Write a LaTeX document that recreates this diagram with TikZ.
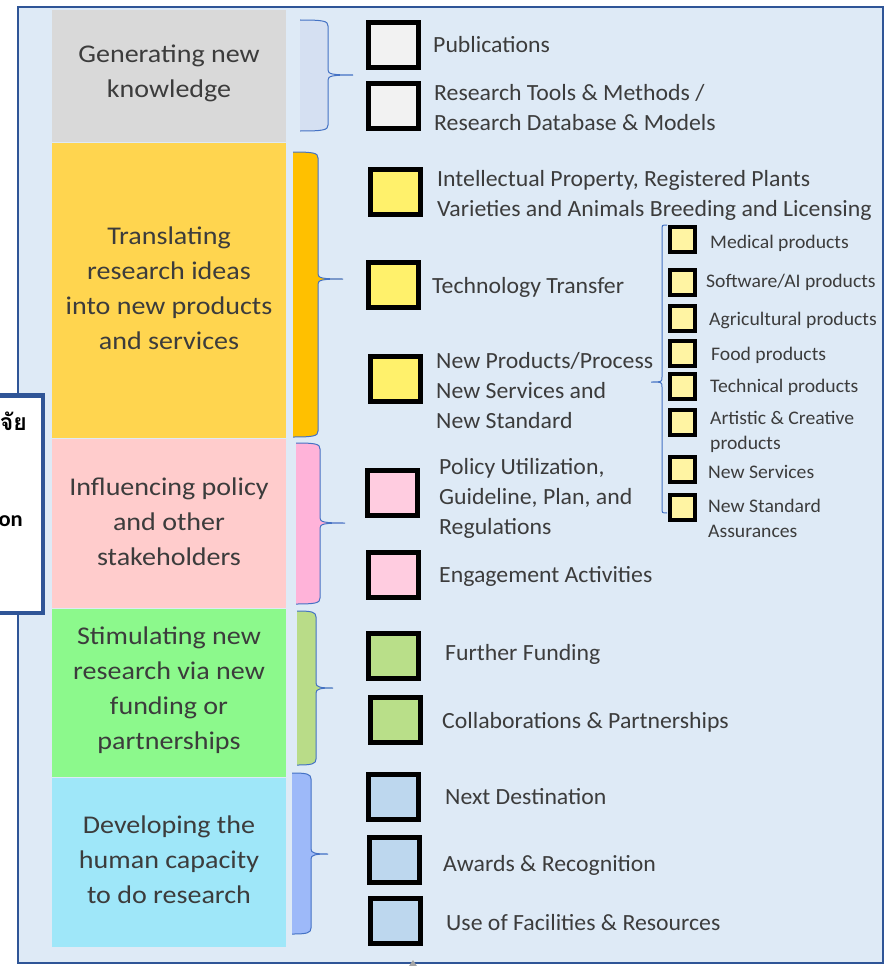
\documentclass[tikz,border=0pt]{standalone}
\usepackage{fontspec}
\setmainfont{Carlito}[FakeStretch=1.025]
\newfontfamily\bandfont{Carlito}[FakeStretch=1.1]
\newfontfamily\thaifont[Script=Thai]{Loma}
\definecolor{bgblue}{HTML}{DEEAF6}
\definecolor{frame}{HTML}{2F5597}
\definecolor{txt}{HTML}{3C3C3C}
\definecolor{bgray}{HTML}{D9D9D9}
\definecolor{byel}{HTML}{FFD54F}
\definecolor{bpink}{HTML}{FFCCCC}
\definecolor{bgreen}{HTML}{8CF98C}
\definecolor{bcyan}{HTML}{9FE7F9}
\definecolor{brgray}{HTML}{D5E0F2}
\definecolor{bryel}{HTML}{FFC000}
\definecolor{brpink}{HTML}{FFB3D9}
\definecolor{brgreen}{HTML}{B9DC88}
\definecolor{brblue}{HTML}{9DB9F9}
\definecolor{brline}{HTML}{4472C4}
\definecolor{sqgray}{HTML}{F2F2F2}
\definecolor{sqyel}{HTML}{FFF16B}
\definecolor{sqpink}{HTML}{FFCCE0}
\definecolor{sqgreen}{HTML}{B9DF89}
\definecolor{sqblue}{HTML}{BDD7EE}
\definecolor{subyel}{HTML}{FFF4A3}
\newcommand\bracefig[7]{%
  \fill[#7] (#1,#3) .. controls (#2-4,#3) and (#2,#3+1) .. (#2,#3+6) -- (#2,#5-5)
    .. controls (#2,#5-1) and (#2+4,#5) .. (#6,#5)
    .. controls (#2+4,#5) and (#2,#5+1) .. (#2,#5+5) -- (#2,#4-6)
    .. controls (#2,#4-1) and (#2-4,#4) .. (#1,#4) -- cycle;
  \draw[brline, line width=1pt] (#1,#3) .. controls (#2-4,#3) and (#2,#3+1) .. (#2,#3+6) -- (#2,#5-5)
    .. controls (#2,#5-1) and (#2+4,#5) .. (#6,#5)
    .. controls (#2+4,#5) and (#2,#5+1) .. (#2,#5+5) -- (#2,#4-6)
    .. controls (#2,#4-1) and (#2-4,#4) .. (#1,#4);}
\tikzset{
  band/.style={inner sep=0pt, text=txt, font=\bandfont\fontsize{25.5}{35}\selectfont, align=center},
  item/.style={anchor=west, inner sep=0pt, text=txt, font=\fontsize{23.2}{30}\selectfont, align=left},
  sub/.style={anchor=west, inner sep=0pt, text=txt, font=\fontsize{19.2}{25}\selectfont, align=left},
  sq/.style={draw=black, line width=5pt, minimum width=50pt, minimum height=45pt, inner sep=0pt},
  ssq/.style={draw=black, line width=4pt, minimum width=25pt, minimum height=25pt, inner sep=0pt, fill=subyel}
}
\begin{document}
\begin{tikzpicture}[x=1pt,y=-1pt]
\useasboundingbox (0,0) rectangle (884,966);
% main frame
\draw[frame, line width=2pt, fill=bgblue] (17.5,7.5) rectangle (882.5,963);
\fill[gray!70] (409,966) -- (413,960) -- (417,966) -- cycle;
% partially hidden box
\draw[frame, line width=4.5pt, fill=white] (-10,395.25) rectangle (42.75,612.75);
\node[anchor=east, inner sep=0pt, font=\thaifont\bfseries\fontsize{23}{26}\selectfont] (thai) at (27,421) {จัย};
\node[anchor=east, inner sep=0pt, font=\bfseries\fontsize{22}{26}\selectfont] (on) at (23,521) {on};
% bands
\fill[bgray] (52,10) rectangle (286,142);
\fill[byel] (52,143) rectangle (286,438);
\fill[bpink] (52,439) rectangle (286,607.5);
\fill[bgreen] (52,609) rectangle (286,776.5);
\fill[bcyan] (52,778) rectangle (286,947);
\node[band] (b1) at (169,73.5) {Generating new\\knowledge};
\node[band] (b2) at (169,288) {Translating\\research ideas\\into new products\\and services};
\node[band] (b3) at (169,521.5) {Influencing policy\\and other\\stakeholders};
\node[band] (b4) at (169,690.5) {Stimulating new\\research via new\\funding or\\partnerships};
\node[band] (b5) at (169,860) {Developing the\\human capacity\\to do research};
% braces
\bracefig{300}{328}{20}{131}{75}{353}{brgray}
\bracefig{293}{318}{152}{437}{279}{343}{bryel}
\bracefig{296}{320}{443}{604}{523}{345}{brpink}
\bracefig{297}{316}{611}{765}{688}{333}{brgreen}
\bracefig{292}{311}{773}{934}{854}{328}{brblue}
% squares
\node[sq, fill=sqgray] (s1) at (393,45.5) {};
\node[sq, fill=sqgray] (s2) at (393,105.5) {};
\node[sq, fill=sqyel] (s3) at (395,192) {};
\node[sq, fill=sqyel] (s4) at (393.5,284.5) {};
\node[sq, fill=sqyel] (s5) at (395,379) {};
\node[sq, fill=sqpink] (s6) at (392,493) {};
\node[sq, fill=sqpink] (s7) at (393,575) {};
\node[sq, fill=sqgreen] (s8) at (393.5,656) {};
\node[sq, fill=sqgreen] (s9) at (395,719.5) {};
\node[sq, fill=sqblue] (s10) at (393.5,797) {};
\node[sq, fill=sqblue] (s11) at (394,860) {};
\node[sq, fill=sqblue] (s12) at (395,921) {};
% item texts
\node[item] (t1) at (433,45) {Publications};
\node[item] (t2) at (434,108) {Research Tools \& Methods /\\Research Database \& Models};
\node[item] (t3) at (437,195) {Intellectual Property, Registered Plants\\Varieties and Animals Breeding and Licensing};
\node[item] (t4) at (432,287) {Technology Transfer};
\node[item] (t5) at (436,391) {New Products/Process\\New Services and\\New Standard};
\node[item] (t6) at (439,498) {Policy Utilization,\\Guideline, Plan, and\\Regulations};
\node[item] (t7) at (439,576) {Engagement Activities};
\node[item] (t8) at (445,654) {Further Funding};
\node[item] (t9) at (442,722) {Collaborations \& Partnerships};
\node[item] (t10) at (445,797) {Next Destination};
\node[item] (t11) at (443,865) {Awards \& Recognition};
\node[item] (t12) at (446,923) {Use of Facilities \& Resources};
% inner brace
\draw[brline, line width=1pt] (667,225) .. controls (662,225) .. (662,230) -- (662,377)
  .. controls (662,382) .. (651,382) .. controls (662,382) .. (662,387) -- (662,508)
  .. controls (662,513) .. (667,513);
% sub squares
\node[ssq] (q1) at (682.5,239.5) {};
\node[ssq] (q2) at (682.5,282.5) {};
\node[ssq] (q3) at (682.5,318.5) {};
\node[ssq] (q4) at (682.5,353.5) {};
\node[ssq] (q5) at (682.5,386) {};
\node[ssq] (q6) at (682.5,422.5) {};
\node[ssq] (q7) at (682.5,469.5) {};
\node[ssq] (q8) at (682.5,507) {};
\node[sub] (u1) at (710,243) {Medical products};
\node[sub] (u2) at (706,282) {Software/AI products};
\node[sub] (u3) at (709,320) {Agricultural products};
\node[sub] (u4) at (711,355) {Food products};
\node[sub] (u5) at (710,387) {Technical products};
\node[sub] (u6) at (710,432) {Artistic \& Creative\\products};
\node[sub] (u7) at (708,472) {New Services};
\node[sub] (u8) at (708,518.5) {New Standard\\Assurances};
\end{tikzpicture}
\end{document}
